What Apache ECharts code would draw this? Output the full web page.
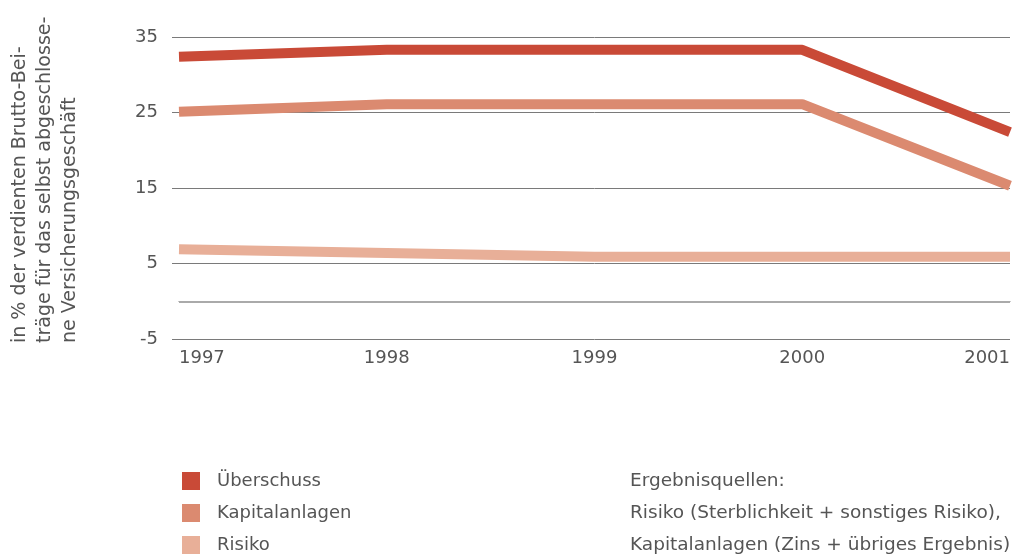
<!DOCTYPE html>
<html>
<head>
<meta charset="utf-8">
<script src="https://cdn.jsdelivr.net/npm/echarts@6/dist/echarts.min.js"></script>
<style>
  html, body { margin: 0; padding: 0; background: #fff; }
  #chart { width: 1021px; height: 554px; }
</style>
</head>
<body>
<div id="chart"></div>
<script>
const years = ['1997', '1998', '1999', '2000', '2001'];
const ueberschuss = [32.4, 33.3, 33.3, 33.3, 22.4];
const kapitalanlagen = [25.1, 26.1, 26.1, 26.1, 15.3];
const risiko = [6.9, 6.4, 5.9, 5.9, 5.9];
const yTicks = [-5, 5, 15, 25, 35];
const yTitle = 'in % der verdienten Brutto-Bei-\nträge für das selbst abgeschlosse-\nne Versicherungsgeschäft';
const sourceNotes = [
  'Ergebnisquellen:',
  'Risiko (Sterblichkeit + sonstiges Risiko),',
  'Kapitalanlagen (Zins + übriges Ergebnis)'
];

const font = 'DejaVu Sans';
const textColor = '#555';
const gridColor = '#7a7a7a';

const chart = echarts.init(document.getElementById('chart'));

chart.setOption({
  animation: false,
  backgroundColor: '#fff',
  textStyle: { fontFamily: font },
  grid: { left: 179, right: 11, top: 37, bottom: 215, outerBoundsMode: 'none', containLabel: false },
  legend: {
    orient: 'vertical',
    left: 182,
    top: 472,
    height: 120,
    padding: 0,
    icon: 'rect',
    itemWidth: 18,
    itemHeight: 18,
    itemGap: 14,
    data: ['Überschuss', 'Kapitalanlagen', 'Risiko'],
    textStyle: { color: textColor, fontSize: 18, fontFamily: font, padding: [0, 0, 0, 12] }
  },
  xAxis: {
    type: 'category',
    data: years,
    boundaryGap: false,
    axisLine: { lineStyle: { color: gridColor, width: 1 } },
    axisTick: { show: false },
    axisLabel: {
      color: textColor,
      fontSize: 18,
      fontFamily: font,
      margin: 10,
      alignMinLabel: 'left',
      alignMaxLabel: 'right'
    }
  },
  yAxis: {
    type: 'value',
    min: -5,
    max: 35,
    axisLine: { show: false },
    axisTick: { show: true, length: 7, customValues: yTicks, lineStyle: { color: gridColor } },
    axisLabel: { color: textColor, fontSize: 18, fontFamily: font, margin: 21, customValues: yTicks },
    splitLine: { show: true, lineStyle: { color: gridColor, width: 1 } }
  },
  series: [
    {
      name: 'Risiko',
      type: 'line',
      data: risiko,
      symbol: 'none',
      color: '#e8af98',
      lineStyle: { width: 10, color: '#e8af98' },
      markLine: {
        silent: true,
        symbol: 'none',
        label: { show: false },
        lineStyle: { color: '#aaaaaa', width: 2, type: 'solid' },
        data: [{ yAxis: 0 }]
      }
    },
    {
      name: 'Kapitalanlagen',
      type: 'line',
      data: kapitalanlagen,
      symbol: 'none',
      color: '#db8a70',
      lineStyle: { width: 10, color: '#db8a70' }
    },
    {
      name: 'Überschuss',
      type: 'line',
      data: ueberschuss,
      symbol: 'none',
      color: '#c94a37',
      lineStyle: { width: 10, color: '#c94a37' }
    }
  ],
  graphic: [
    {
      type: 'text',
      x: 45,
      y: 343,
      rotation: Math.PI / 2,
      style: {
        text: yTitle,
        fill: textColor,
        font: '19px "DejaVu Sans"',
        align: 'left',
        verticalAlign: 'middle',
        lineHeight: 25
      }
    }
  ].concat(sourceNotes.map((line, i) => ({
    type: 'text',
    x: 630,
    y: 481 + i * 32,
    style: { text: line, fill: textColor, font: '18.5px "DejaVu Sans"', verticalAlign: 'middle' }
  })))
});
</script>
</body>
</html>
